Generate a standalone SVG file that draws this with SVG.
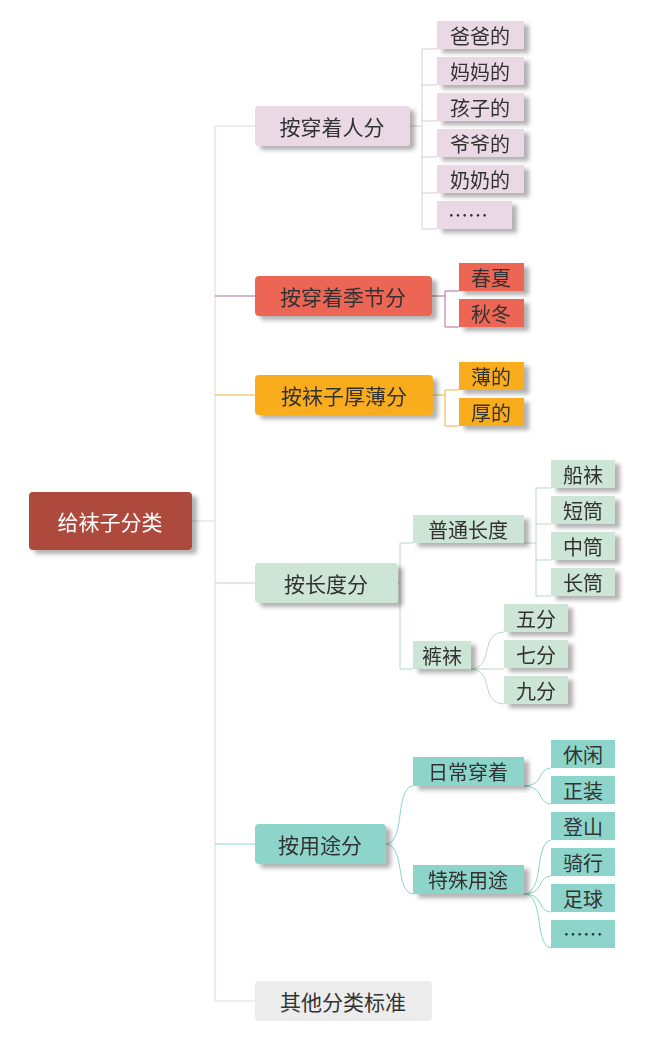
<svg xmlns="http://www.w3.org/2000/svg" width="654" height="1043" viewBox="0 0 654 1043">
<style>
text{font-family:"Noto Sans CJK SC","Liberation Sans",sans-serif;fill:#333;dominant-baseline:central;text-anchor:middle}
.l1{font-size:21px}.lf{font-size:20px}
.c{fill:none;stroke-width:1}
</style>
<defs><filter id="sh" x="-10%" y="-20%" width="130%" height="160%"><feDropShadow dx="5" dy="4" stdDeviation="2" flood-color="#000" flood-opacity="0.3"/></filter></defs>
<g id="connectors">
<path class="c" stroke="#e2d6dc" d="M192 521H215M215 126V1001M215 126H255"/>
<path class="c" stroke="#b36a95" d="M215 296H255"/>
<path class="c" stroke="#e8b540" d="M215 395H255"/>
<path class="c" stroke="#b8d8c6" d="M215 583H255"/>
<path class="c" stroke="#8dd5cb" d="M215 844H255"/>
<path class="c" stroke="#dddddd" d="M215 1001H255"/>
<path class="c" stroke="#dccbd6" d="M410 126H422M422 49V229M422 49H437M422 85H437M422 121H437M422 157H437M422 193H437M422 229H437"/>
<path class="c" stroke="#b36a95" d="M432 296H445M445 291V327M445 291H459M445 327H459"/>
<path class="c" stroke="#e8b540" d="M433 395H445M445 390V426M445 390H459M445 426H459"/>
<path class="c" stroke="#b8d8c6" d="M398 583H400M400 543V669M400 543H413M400 669H413M524 543H536M536 488V596M536 488H551M536 524H551M536 560H551M536 596H551M471 669Q484 669 487 650Q490 632 504 632M471 669H504M471 669Q484 669 487 686Q490 704 504 704"/>
<path class="c" stroke="#8dd5cb" d="M386 844Q397 844 400 815Q403 786 413 786M386 844Q397 844 400 869Q403 894 413 894M524 786Q536 786 540 777Q544 768 551 768M524 786Q536 786 540 795Q544 804 551 804M524 894Q536 894 539 867Q542 840 551 840M524 894Q536 894 540 885Q544 876 551 876M524 894Q536 894 540 903Q544 912 551 912M524 894Q536 894 539 921Q542 948 551 948"/>
</g>
<g id="root" filter="url(#sh)"><rect x="29" y="492" width="163" height="58" rx="4" fill="#ad4a3e"/><text x="110" y="521" class="l1" style="fill:#fff">给袜子分类</text></g>
<g id="n1" filter="url(#sh)"><rect x="255" y="106" width="155" height="40" rx="4" fill="#ead9e4"/><text x="332" y="126" class="l1">按穿着人分</text></g>
<g id="n2" filter="url(#sh)"><rect x="255" y="276" width="177" height="40" rx="4" fill="#ec6555"/><text x="343" y="296" class="l1">按穿着季节分</text></g>
<g id="n3" filter="url(#sh)"><rect x="255" y="375" width="178" height="40" rx="4" fill="#f9ad1f"/><text x="344" y="395" class="l1">按袜子厚薄分</text></g>
<g id="n4" filter="url(#sh)"><rect x="255" y="563" width="143" height="40" rx="4" fill="#cce5d6"/><text x="326" y="583" class="l1">按长度分</text></g>
<g id="n5" filter="url(#sh)"><rect x="255" y="824" width="131" height="40" rx="4" fill="#8dd5cb"/><text x="320" y="844" class="l1">按用途分</text></g>
<g id="n6"><rect x="255" y="981" width="177" height="40" rx="4" fill="#ececec"/><text x="343" y="1001" class="l1">其他分类标准</text></g>
<g filter="url(#sh)">
<g id="a1"><rect x="437" y="21" width="87" height="28" fill="#ead9e4"/><text x="480" y="35" class="lf">爸爸的</text></g>
<g id="a2"><rect x="437" y="57" width="87" height="28" fill="#ead9e4"/><text x="480" y="71" class="lf">妈妈的</text></g>
<g id="a3"><rect x="437" y="93" width="87" height="28" fill="#ead9e4"/><text x="480" y="107" class="lf">孩子的</text></g>
<g id="a4"><rect x="437" y="129" width="87" height="28" fill="#ead9e4"/><text x="480" y="143" class="lf">爷爷的</text></g>
<g id="a5"><rect x="437" y="165" width="87" height="28" fill="#ead9e4"/><text x="480" y="179" class="lf">奶奶的</text></g>
<g id="a6"><rect x="437" y="201" width="75" height="28" fill="#ead9e4"/><text x="468" y="214" class="lf">……</text></g>
</g>
<g filter="url(#sh)">
<g id="b1"><rect x="459" y="263" width="65" height="28" fill="#ec6555"/><text x="491" y="277" class="lf">春夏</text></g>
<g id="b2"><rect x="459" y="299" width="65" height="28" fill="#ec6555"/><text x="491" y="313" class="lf">秋冬</text></g>
<g id="c1"><rect x="459" y="362" width="65" height="28" fill="#f9ad1f"/><text x="491" y="376" class="lf">薄的</text></g>
<g id="c2"><rect x="459" y="398" width="65" height="28" fill="#f9ad1f"/><text x="491" y="412" class="lf">厚的</text></g>
</g>
<g filter="url(#sh)">
<g id="d1"><rect x="413" y="515" width="111" height="28" fill="#cce5d6"/><text x="468" y="529" class="lf">普通长度</text></g>
<g id="d2"><rect x="413" y="641" width="58" height="28" fill="#cce5d6"/><text x="442" y="655" class="lf">裤袜</text></g>
<g id="e1"><rect x="551" y="460" width="64" height="28" fill="#cce5d6"/><text x="583" y="474" class="lf">船袜</text></g>
<g id="e2"><rect x="551" y="496" width="64" height="28" fill="#cce5d6"/><text x="583" y="510" class="lf">短筒</text></g>
<g id="e3"><rect x="551" y="532" width="64" height="28" fill="#cce5d6"/><text x="583" y="546" class="lf">中筒</text></g>
<g id="e4"><rect x="551" y="568" width="64" height="28" fill="#cce5d6"/><text x="583" y="582" class="lf">长筒</text></g>
<g id="f1"><rect x="504" y="604" width="64" height="28" fill="#cce5d6"/><text x="536" y="618" class="lf">五分</text></g>
<g id="f2"><rect x="504" y="640" width="64" height="28" fill="#cce5d6"/><text x="536" y="654" class="lf">七分</text></g>
<g id="f3"><rect x="504" y="676" width="64" height="28" fill="#cce5d6"/><text x="536" y="690" class="lf">九分</text></g>
</g>
<g filter="url(#sh)">
<g id="g1"><rect x="413" y="757" width="111" height="29" fill="#8dd5cb"/><text x="468" y="771" class="lf">日常穿着</text></g>
<g id="g2"><rect x="413" y="865" width="111" height="29" fill="#8dd5cb"/><text x="468" y="879" class="lf">特殊用途</text></g>
</g>
<g>
<g id="h1"><rect x="551" y="740" width="64" height="28" fill="#8dd5cb"/><text x="583" y="754" class="lf">休闲</text></g>
<g id="h2"><rect x="551" y="776" width="64" height="28" fill="#8dd5cb"/><text x="583" y="790" class="lf">正装</text></g>
<g id="h3"><rect x="551" y="812" width="64" height="28" fill="#8dd5cb"/><text x="583" y="826" class="lf">登山</text></g>
<g id="h4"><rect x="551" y="848" width="64" height="28" fill="#8dd5cb"/><text x="583" y="862" class="lf">骑行</text></g>
<g id="h5"><rect x="551" y="884" width="64" height="28" fill="#8dd5cb"/><text x="583" y="898" class="lf">足球</text></g>
<g id="h6"><rect x="551" y="920" width="64" height="28" fill="#8dd5cb"/><text x="583" y="933" class="lf">……</text></g>
</g>
</svg>
